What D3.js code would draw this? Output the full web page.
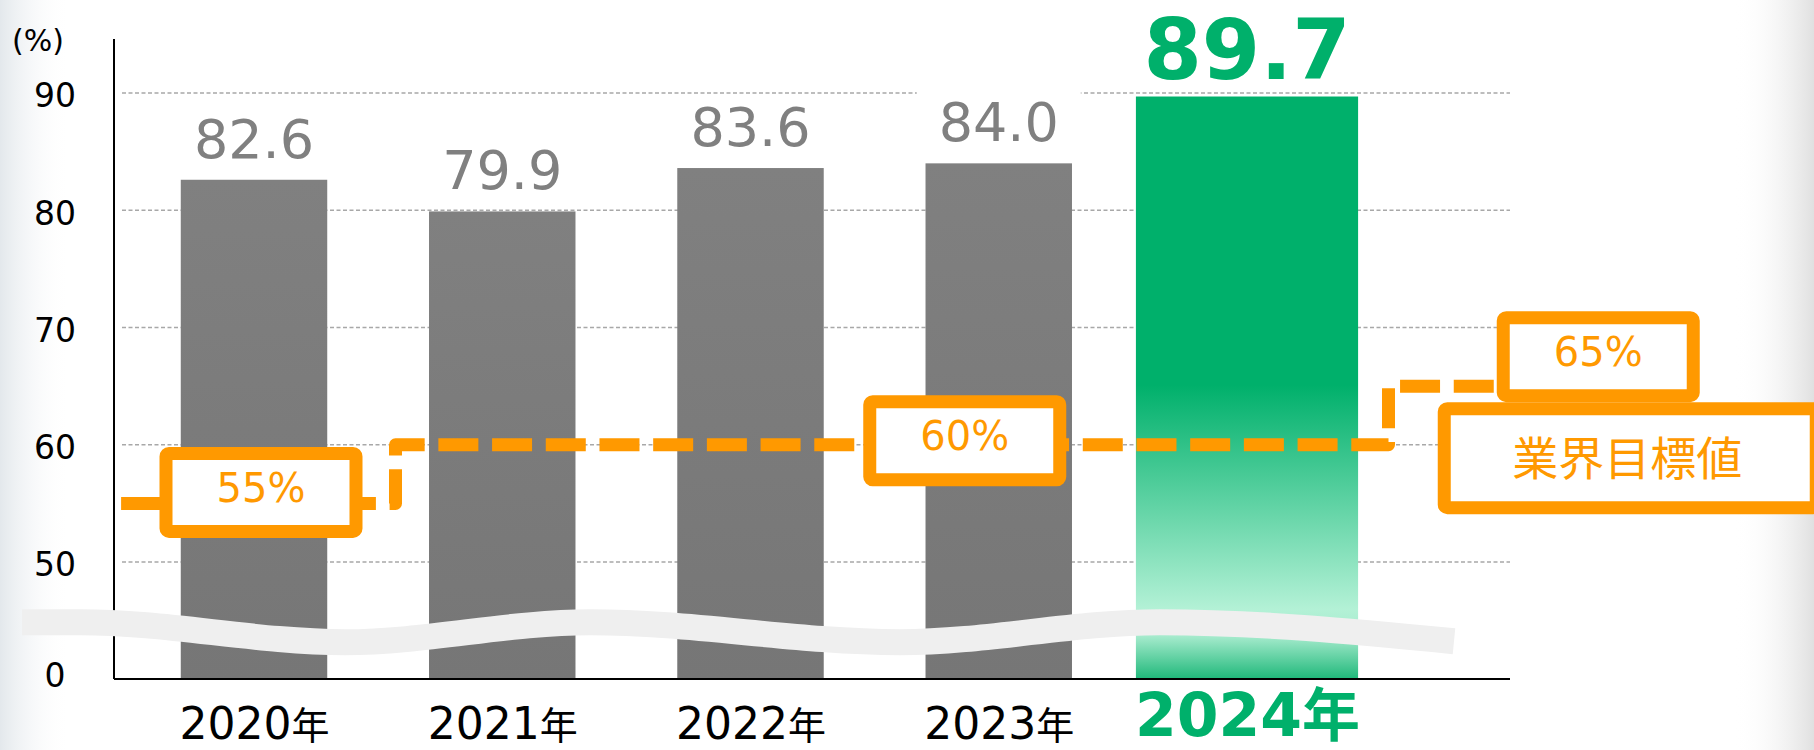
<!DOCTYPE html>
<html>
<head>
<meta charset="utf-8">
<script src="https://cdn.jsdelivr.net/npm/d3@7"></script>
<style>
  body { margin: 0; background: #fff; }
  svg { display: block; font-family: "DejaVu Sans", "Noto Sans CJK JP", sans-serif; }
</style>
</head>
<body>
<svg id="chart" width="1814" height="750"></svg>
<script>
// data
const years = ["2020", "2021", "2022", "2023", "2024"];
const rates = [82.6, 79.9, 83.6, 84.0, 89.7];
// industry target per year, 2020 .. 2025
const targets = [55, 60, 60, 60, 60, 65];
const yTicks = [0, 50, 60, 70, 80, 90];
const yearSuffix = "年";
const targetTitle = "業界目標値";
const unitLabel = "(%)";

const svg = d3.select("#chart"),
  width = +svg.attr("width"),
  height = +svg.attr("height");

const plotL = 114, plotR = 1510, plotT = 39, plotB = 679;
const gray = "#808080", green = "#00b06b", orange = "#ff9900";
const hi = years.length - 1; // highlighted (latest) year

// broken axis: 0..50 squeezed, 50..90 linear
const y = d3.scaleLinear().domain([0, 50, 90]).range([plotB, 562, 93]);
const x = d3.scalePoint().domain(years).range([254, 1247]);
const step = x.step();
const xi = d3.scaleLinear().domain([0, years.length - 1]).range(x.range());
const barW = (i) => (i === hi ? step * 0.895 : step * 0.59);

const defs = svg.append("defs");

// soft page edges
const edgeL = defs.append("linearGradient").attr("id", "edgeL");
edgeL.append("stop").attr("offset", 0).attr("stop-color", "#e3e8ec");
edgeL.append("stop").attr("offset", 1).attr("stop-color", "#fff").attr("stop-opacity", 0);
const edgeR = defs.append("linearGradient").attr("id", "edgeR");
edgeR.append("stop").attr("offset", 0).attr("stop-color", "#fff").attr("stop-opacity", 0);
edgeR.append("stop").attr("offset", 1).attr("stop-color", "#e0e0e0");
svg.append("rect").attr("x", 0).attr("y", 0).attr("width", 70).attr("height", height).attr("fill", "url(#edgeL)");
svg.append("rect").attr("x", width - 80).attr("y", 0).attr("width", 80).attr("height", height).attr("fill", "url(#edgeR)");

// bar fills
const grayGrad = defs.append("linearGradient").attr("id", "grayGrad")
  .attr("x1", 0).attr("y1", 0).attr("x2", 0).attr("y2", 1);
grayGrad.append("stop").attr("offset", 0).attr("stop-color", "#808080");
grayGrad.append("stop").attr("offset", 1).attr("stop-color", "#767676");

const gTop = y(rates[hi]);
const off = (p) => (p - gTop) / (plotB - gTop);
const greenGrad = defs.append("linearGradient").attr("id", "greenGrad")
  .attr("gradientUnits", "userSpaceOnUse")
  .attr("x1", 0).attr("y1", gTop).attr("x2", 0).attr("y2", plotB);
[
  [gTop, green],
  [385, green],
  [609, "#b3f1d6"],
  [636, "#a6ebcd"],
  [plotB, "#1fb87a"]
].forEach(([p, c]) => greenGrad.append("stop").attr("offset", off(p)).attr("stop-color", c));

// gridlines
svg.append("g")
  .attr("class", "grid")
  .selectAll("line")
  .data(yTicks.filter((d) => d > 0))
  .join("line")
  .attr("x1", plotL + 8)
  .attr("x2", plotR)
  .attr("y1", (d) => y(d))
  .attr("y2", (d) => y(d))
  .attr("stroke", "#a8a8a8")
  .attr("stroke-width", 1.3)
  .attr("stroke-dasharray", "4 2.5");

// bars
svg.append("g")
  .attr("class", "bars")
  .selectAll("rect")
  .data(rates)
  .join("rect")
  .attr("x", (d, i) => x(years[i]) - barW(i) / 2)
  .attr("width", (d, i) => barW(i))
  .attr("y", (d) => y(d))
  .attr("height", (d) => plotB - y(d))
  .attr("fill", (d, i) => (i === hi ? "url(#greenGrad)" : "url(#grayGrad)"));

// value labels
const vl = svg.append("g")
  .attr("class", "values")
  .selectAll("g")
  .data(rates)
  .join("g")
  .attr("transform", (d, i) => `translate(${x(years[i])},${y(d) - (i === hi ? 18 : 22)})`);
vl.filter((d, i) => i !== hi)
  .append("rect")
  .attr("x", -82).attr("width", 164)
  .attr("y", -50).attr("height", 60)
  .attr("fill", "#fff");
vl.append("text")
  .attr("text-anchor", "middle")
  .attr("font-size", (d, i) => (i === hi ? 84 : 54))
  .attr("font-weight", (d, i) => (i === hi ? "bold" : "normal"))
  .attr("fill", (d, i) => (i === hi ? green : gray))
  .text((d) => d.toFixed(1));

// axes
svg.append("line")
  .attr("x1", plotL).attr("x2", plotL).attr("y1", plotT).attr("y2", plotB)
  .attr("stroke", "#000").attr("stroke-width", 2);
svg.append("line")
  .attr("x1", plotL).attr("x2", plotR).attr("y1", plotB).attr("y2", plotB)
  .attr("stroke", "#000").attr("stroke-width", 2);

const yAxis = svg.append("g")
  .attr("transform", `translate(${plotL},0)`)
  .call(d3.axisLeft(y).tickValues(yTicks).tickSize(0));
yAxis.select(".domain").remove();
yAxis.attr("font-family", null).attr("font-size", null);
yAxis.selectAll("text")
  .attr("x", 55 - plotL)
  .attr("dy", (d) => (d === 0 ? "0.22em" : "0.42em"))
  .attr("text-anchor", "middle")
  .attr("font-size", 33)
  .attr("fill", "#000");

svg.append("text")
  .attr("x", 38).attr("y", 51)
  .attr("text-anchor", "middle")
  .attr("font-size", 30)
  .text(unitLabel);

const xAxis = svg.append("g")
  .attr("transform", `translate(0,${plotB})`)
  .call(d3.axisBottom(x).tickSize(0));
xAxis.select(".domain").remove();
xAxis.attr("font-family", null).attr("font-size", null);
xAxis.selectAll("text")
  .attr("dy", 0)
  .each(function (d, i) {
    const isHi = i === hi;
    const t = d3.select(this).text(null);
    t.attr("y", isHi ? 57 : 60)
      .attr("fill", isHi ? green : "#000")
      .attr("font-weight", isHi ? "bold" : "normal")
      .attr("font-size", isHi ? 60 : 44);
    t.append("tspan").text(d);
    t.append("tspan").attr("font-size", isHi ? 58 : 38).text(yearSuffix);
  });

// axis break band
const breakY = y(0) + (y(50) - y(0)) * 0.4;
const amp = 10;
const wave = [
  [22, -amp], [80, -amp], [345, amp], [590, -amp], [900, amp], [1160, -amp], [1454, amp - 1]
];
svg.append("path")
  .attr("d", d3.line().x((d) => d[0]).y((d) => breakY + d[1]).curve(d3.curveMonotoneX)(wave))
  .attr("fill", "none")
  .attr("stroke", "#efefef")
  .attr("stroke-width", 26);

// target step line
const pts = [[plotL, targets[0]]];
targets.forEach((v, i) => {
  if (i > 0 && v !== targets[i - 1]) {
    const bx = xi(i) - 0.43 * step;
    pts.push([bx, targets[i - 1]], [bx, v]);
  }
  pts.push([xi(i), v]);
});
svg.append("path")
  .attr("d", d3.line().x((d) => d[0]).y((d) => y(d[1]))(pts))
  .attr("fill", "none")
  .attr("stroke", orange)
  .attr("stroke-width", 13)
  .attr("stroke-linejoin", "round")
  .attr("stroke-dasharray", "40 13.7")
  .attr("stroke-dashoffset", 46.6);

// target value boxes
const boxW = 190, boxH = 78;
const boxLayout = [
  { i: 0, dx: 7, dy: -11 },
  { i: 3, dx: -34, dy: -4 },
  { i: 5, dx: 103, dy: -29.5 }
];
const boxes = svg.append("g")
  .attr("class", "targets")
  .selectAll("g")
  .data(boxLayout)
  .join("g")
  .attr("transform", (d) => `translate(${xi(d.i) + d.dx},${y(targets[d.i]) + d.dy})`);
boxes.append("rect")
  .attr("x", -boxW / 2).attr("y", -boxH / 2)
  .attr("width", boxW).attr("height", boxH)
  .attr("rx", 3)
  .attr("fill", "#fff")
  .attr("stroke", orange)
  .attr("stroke-width", 13);
boxes.append("text")
  .attr("y", -5)
  .attr("dy", "0.36em")
  .attr("text-anchor", "middle")
  .attr("font-size", 40)
  .attr("fill", orange)
  .text((d) => targets[d.i] + "%");

// title box under the 65% box
const last = boxLayout[2];
const tx = xi(last.i) + last.dx - boxW / 2 - 59;
const ty = y(targets[last.i]) + last.dy + boxH / 2 + 13;
svg.append("rect")
  .attr("x", tx).attr("y", ty)
  .attr("width", 372).attr("height", 99)
  .attr("rx", 3)
  .attr("fill", "#fff")
  .attr("stroke", orange)
  .attr("stroke-width", 13);
svg.append("text")
  .attr("x", tx + 183)
  .attr("y", ty + 49.5)
  .attr("dy", "0.36em")
  .attr("text-anchor", "middle")
  .attr("font-size", 46)
  .attr("fill", orange)
  .text(targetTitle);
</script>
</body>
</html>
